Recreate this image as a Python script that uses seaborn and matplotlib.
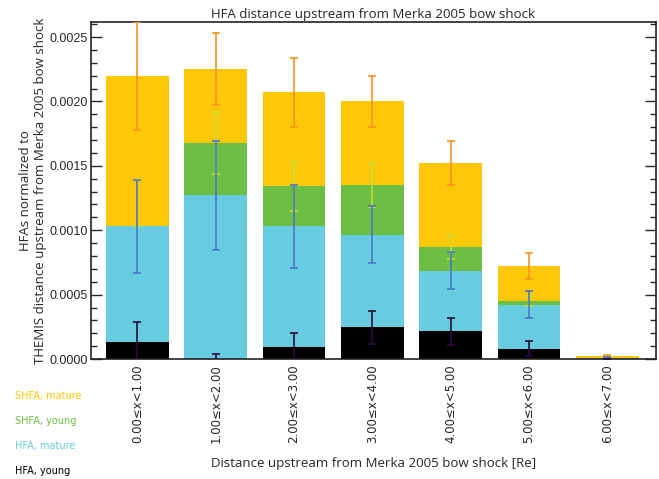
import numpy as np
import pandas as pd
import seaborn as sns
import matplotlib.pyplot as plt
from matplotlib.ticker import MultipleLocator

# bins of distance upstream from the bow shock
bins = ["0.00≤x<1.00", "1.00≤x<2.00", "2.00≤x<3.00", "3.00≤x<4.00",
        "4.00≤x<5.00", "5.00≤x<6.00", "6.00≤x<7.00"]

# cumulative (stacked) heights
shfa_mature = [0.00220, 0.00225, 0.00207, 0.00200, 0.00152, 0.000725, 0.000025]
shfa_young = [0.00103, 0.00168, 0.00134, 0.00135, 0.000870, 0.000450, 0.000010]
hfa_mature = [0.00103, 0.00127, 0.00103, 0.000965, 0.000685, 0.000420, 0.000010]
hfa_young = [0.000130, 0.0, 0.000090, 0.000245, 0.000215, 0.000080, 0.0]

# error bar half widths
shfa_mature_err = [0.00042, 0.00028, 0.00027, 0.00020, 0.00017, 0.000100, 0.000010]
shfa_young_err = [0.0, 0.00024, 0.00019, 0.00017, 0.000090, 0.000035, 0.0]
hfa_mature_err = [0.00036, 0.00042, 0.00032, 0.00022, 0.000145, 0.000105, 0.000008]
hfa_young_err = [0.00016, 0.00004, 0.00011, 0.00013, 0.000105, 0.000060, 0.0]

labels = ["SHFA, mature", "SHFA, young", "HFA, mature", "HFA, young"]
bar_colors = ["#FEC80A", "#6CBE45", "#67CCE0", "#000000"]
err_colors = ["#F7941D", "#C9DB2C", "#4A78C2", "#2C0B3A"]

df = pd.DataFrame({"bin": bins, "SHFA, mature": shfa_mature, "SHFA, young": shfa_young,
                   "HFA, mature": hfa_mature, "HFA, young": hfa_young})
errs = [shfa_mature_err, shfa_young_err, hfa_mature_err, hfa_young_err]

sns.set_style("white")
plt.rcParams['font.family'] = ['Open Sans', 'DejaVu Sans']

fig = plt.figure(figsize=(6.59, 4.79), dpi=100)
ax = fig.add_axes([0.138, 0.2505, 0.8574, 0.7035])

# overlapping bars, tallest first
for lab, col in zip(labels, bar_colors):
    sns.barplot(data=df, x="bin", y=lab, color=col, saturation=1, width=0.8,
                errorbar=None, ax=ax, zorder=2, linewidth=0, edgecolor="none")

xpos = np.arange(len(bins))
for lab, col, e in zip(labels, err_colors, errs):
    ax.errorbar(xpos, df[lab], yerr=e, fmt="none", ecolor=col, elinewidth=1.2,
                capsize=3, capthick=1.2, zorder=3)

ax.set_xlim(-0.594, 6.62)
ax.set_ylim(0, 0.002617)
ax.yaxis.set_major_locator(MultipleLocator(0.0005))
ax.yaxis.set_minor_locator(MultipleLocator(0.0001))
ax.yaxis.set_major_formatter(plt.FuncFormatter(lambda v, p: f"{v:.4f}"))
ax.tick_params(axis="y", which="major", direction="in", length=8, width=1,
               left=True, right=True, labelsize=9, pad=2)
ax.tick_params(axis="y", which="minor", direction="in", length=4, width=1,
               left=True, right=True)
ax.tick_params(axis="x", length=0, labelsize=8.5, pad=4)
for t in ax.get_yticklabels():
    t.set_family(["Liberation Sans", "DejaVu Sans"])
ax.set_xticks(xpos)
ax.set_xticklabels(bins, rotation=90, family=["DejaVu Sans"])

for sp in ax.spines.values():
    sp.set_visible(True)
    sp.set_color("#222222")
    sp.set_linewidth(1.2)

ax.set_xlabel("Distance upstream from Merka 2005 bow shock [Re]", fontsize=9.5, labelpad=10)
ax.set_ylabel("HFAs normalized to\nTHEMIS distance upstream from Merka 2005 bow shock",
              fontsize=9.5, labelpad=2)
ax.set_title("HFA distance upstream from Merka 2005 bow shock", fontsize=9.5, pad=3)

# legend as coloured text below the axis on the left
for i, (lab, col) in enumerate(zip(labels, bar_colors)):
    fig.text(0.023, 1 - (396 + 25 * i) / 479, lab, color=col, fontsize=7,
             family=["DejaVu Sans"], va="center", ha="left")

fig.savefig("out.png", dpi=100)
